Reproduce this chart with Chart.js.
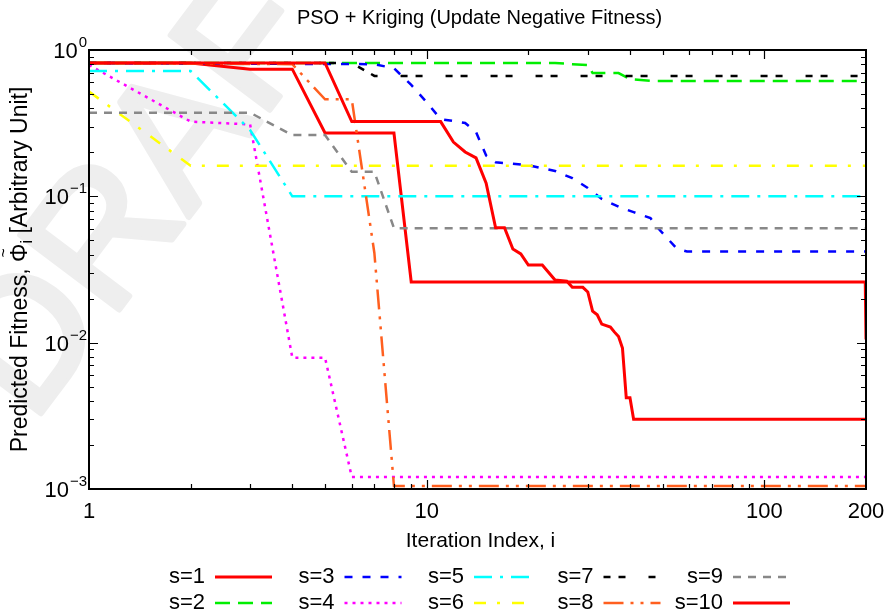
<!DOCTYPE html>
<html>
<head>
<meta charset="utf-8">
<script src="https://cdn.jsdelivr.net/npm/chart.js@4.4.1/dist/chart.umd.min.js"></script>
<style>
html, body { margin: 0; padding: 0; background: #fff; }
</style>
</head>
<body>
<canvas id="fitness" width="884" height="612"></canvas>
<script>
// best predicted fitness of each swarm, taken at the iterations where it changes
var iter1 = [1, 2, 3, 4, 5, 8, 9, 199, 200];
var fit1 = [0.815, 0.815, 0.74, 0.74, 0.271, 0.271, 0.026, 0.026, 0.0105];

var iter2 = [1, 24, 27, 30, 31, 37, 40, 47, 200];
var fit2 = [0.815, 0.815, 0.80, 0.79, 0.696, 0.696, 0.632, 0.614, 0.614];

var iter3 = [1, 7, 8, 9, 10, 11, 12, 13, 14, 15, 16, 20, 24, 27, 30, 33, 37, 41, 46, 48, 55, 59, 200];
var fit3 = [0.815, 0.80, 0.75, 0.577, 0.44, 0.337, 0.327, 0.317, 0.275, 0.19, 0.171, 0.163, 0.149, 0.133, 0.114, 0.096, 0.085, 0.078, 0.071, 0.062, 0.044, 0.042, 0.042];

var iter4 = [1, 2, 3, 4, 5, 6, 200];
var fit4 = [0.79, 0.324, 0.31, 0.0079, 0.0079, 0.00121, 0.00121];

var iter5 = [1, 2, 3, 4, 200];
var fit5 = [0.718, 0.718, 0.284, 0.1, 0.1];

var iter6 = [1, 2, 200];
var fit6 = [0.52, 0.162, 0.162];

var iter7 = [1, 6, 7, 200];
var fit7 = [0.815, 0.815, 0.665, 0.665];

var iter8 = [1, 4, 5, 6, 7, 8, 200];
var fit8 = [0.815, 0.80, 0.46, 0.46, 0.041, 0.00105, 0.00105];

var iter9 = [1, 3, 4, 5, 6, 7, 8, 200];
var fit9 = [0.373, 0.373, 0.262, 0.262, 0.147, 0.147, 0.0606, 0.0606];

var iter10 = [1, 5, 6, 11, 12, 13, 14, 15, 16, 17, 18, 19, 20, 22, 24, 26, 27, 29, 30, 31, 32, 33, 35, 36, 37, 38, 39, 40, 41, 200];
var fit10 = [0.815, 0.815, 0.324, 0.324, 0.235, 0.201, 0.183, 0.123, 0.061, 0.061, 0.0436, 0.0404, 0.0339, 0.0339, 0.0268, 0.0263, 0.0239, 0.0239, 0.0222, 0.0164, 0.0155, 0.0134, 0.0128, 0.0118, 0.011, 0.0092, 0.0042, 0.0042, 0.003, 0.003];

var swarmLabels = ["s=1", "s=2", "s=3", "s=4", "s=5", "s=6", "s=7", "s=8", "s=9", "s=10"];
var xTickValues = [1, 10, 100, 200];
var xTickLabels = ["1", "10", "100", "200"];
var yTickValues = [1, 0.1, 0.01, 0.001];
var yTickExps = ["0", "\u22121", "\u22122", "\u22123"];

var iters = [iter1, iter2, iter3, iter4, iter5, iter6, iter7, iter8, iter9, iter10];
var fits = [fit1, fit2, fit3, fit4, fit5, fit6, fit7, fit8, fit9, fit10];

// gnuplot-like line styles
var styles = [
	{color: "#ff0000", dash: [], width: 3},
	{color: "#00ee00", dash: [15, 8], width: 2.5},
	{color: "#0000ff", dash: [8, 10], width: 2.5},
	{color: "#ff00ff", dash: [3, 5], width: 2.5},
	{color: "#00ffff", dash: [18, 8, 3, 8], width: 2.5},
	{color: "#ffff00", dash: [12, 11, 3, 12], width: 2.5},
	{color: "#000000", dash: [7, 8, 7, 23], width: 2.5},
	{color: "#ff5f1f", dash: [20, 7, 3, 7, 3, 7], width: 2.5},
	{color: "#888888", dash: [8, 7], width: 2.5},
	{color: "#ff0000", dash: [], width: 3}
];

var FONT = '"Liberation Sans", Arial, sans-serif';
function font(px){ return px + "px " + FONT; }
function isDecade(v){ var l = Math.log10(v); return Math.abs(l - Math.round(l)) < 1e-9; }
function isUnit(v){ var m = v / Math.pow(10, Math.floor(Math.log10(v) + 1e-9)); return Math.abs(m - Math.round(m)) < 1e-6; }

var datasets = swarmLabels.map(function(label, k){
	return {
		label: label,
		data: iters[k].map(function(x, j){ return {x: x, y: fits[k][j]}; }),
		borderColor: styles[k].color,
		borderDash: styles[k].dash,
		borderWidth: styles[k].width,
		pointRadius: 0,
		tension: 0,
		fill: false,
		order: swarmLabels.length - 1 - k
	};
});

var frame = {
	id: "frame",
	beforeDraw: function(chart){
		// faint watermark behind everything
		var ctx = chart.ctx;
		ctx.save();
		ctx.translate(32, 425);
		ctx.rotate(-53 * Math.PI / 180);
		ctx.font = "180px " + FONT;
		ctx.fillStyle = "#eeeeee";
		ctx.strokeStyle = "#eeeeee";
		ctx.lineWidth = 6;
		ctx.lineJoin = "round";
		ctx.strokeText("DRAFT", 0, 0);
		ctx.fillText("DRAFT", 0, 0);
		ctx.restore();
	},
	afterDraw: function(chart){
		var ctx = chart.ctx, a = chart.chartArea;
		var xs = chart.scales.x, ys = chart.scales.y;
		ctx.save();

		// inward ticks on all four sides
		ctx.strokeStyle = "#000";
		ctx.lineWidth = 1.2;
		ctx.setLineDash([]);
		xs.ticks.forEach(function(t){
			var v = t.value;
			if(v <= xs.min || v >= xs.max || !isUnit(v)) return;
			var px = Math.round(xs.getPixelForValue(v)) + 0.5;
			var len = isDecade(v) ? 9 : 5;
			ctx.beginPath();
			ctx.moveTo(px, a.bottom); ctx.lineTo(px, a.bottom - len);
			ctx.moveTo(px, a.top); ctx.lineTo(px, a.top + len);
			ctx.stroke();
		});
		ys.ticks.forEach(function(t){
			var v = t.value;
			if(v <= ys.min || v >= ys.max || !isUnit(v)) return;
			var py = Math.round(ys.getPixelForValue(v)) + 0.5;
			var len = isDecade(v) ? 9 : 5;
			ctx.beginPath();
			ctx.moveTo(a.left, py); ctx.lineTo(a.left + len, py);
			ctx.moveTo(a.right, py); ctx.lineTo(a.right - len, py);
			ctx.stroke();
		});

		// plot border
		ctx.lineWidth = 2;
		ctx.strokeRect(a.left, a.top, a.right - a.left, a.bottom - a.top);

		ctx.fillStyle = "#000";
		ctx.textBaseline = "middle";

		// x tick labels
		ctx.font = font(22);
		ctx.textAlign = "center";
		xTickValues.forEach(function(v, j){
			ctx.fillText(xTickLabels[j], xs.getPixelForValue(v), a.bottom + 23);
		});

		// y tick labels, 10 with a raised exponent
		yTickValues.forEach(function(v, j){
			var py = ys.getPixelForValue(v);
			ctx.font = font(15);
			ctx.textAlign = "right";
			var ew = ctx.measureText(yTickExps[j]).width;
			ctx.fillText(yTickExps[j], a.left - 2, py - 7);
			ctx.font = font(22);
			ctx.fillText("10", a.left - 3 - ew, py + 2);
		});

		// title and axis titles
		var cx = (a.left + a.right) / 2;
		ctx.textAlign = "center";
		ctx.font = font(20);
		ctx.fillText("PSO + Kriging (Update Negative Fitness)", cx + 2, 18);
		ctx.font = font(21);
		ctx.fillText("Iteration Index, i", cx + 3, a.bottom + 52);

		ctx.save();
		ctx.translate(21, (a.top + a.bottom) / 2);
		ctx.rotate(-Math.PI / 2);
		ctx.textAlign = "left";
		var p1 = "Predicted Fitness, ", p4 = " [Arbitrary Unit]";
		ctx.font = font(23);
		var w1 = ctx.measureText(p1).width, wPhi = ctx.measureText("\u03a6").width, w4 = ctx.measureText(p4).width;
		ctx.font = font(16);
		var wi = ctx.measureText("i").width, wt = ctx.measureText("~").width;
		var x = -(w1 + wPhi + wi + w4) / 2;
		ctx.font = font(23);
		ctx.fillText(p1, x, 0); x += w1;
		ctx.fillText("\u03a6", x, 0);
		ctx.font = font(16);
		ctx.fillText("~", x + (wPhi - wt) / 2, -16);
		x += wPhi;
		ctx.fillText("i", x, 7); x += wi;
		ctx.font = font(23);
		ctx.fillText(p4, x, 0);
		ctx.restore();

		// key: two rows, five columns, text then line sample
		ctx.font = font(22);
		ctx.textAlign = "right";
		swarmLabels.forEach(function(label, k){
			var col = Math.floor(k / 2), row = k % 2;
			var sx = 215 + 129.5 * col, sy = 577 + 26 * row;
			ctx.fillStyle = "#000";
			ctx.fillText(label, sx - 10, sy);
			ctx.strokeStyle = styles[k].color;
			ctx.lineWidth = styles[k].width;
			ctx.setLineDash(styles[k].dash);
			ctx.beginPath();
			ctx.moveTo(sx, sy); ctx.lineTo(sx + 57, sy);
			ctx.stroke();
		});
		ctx.restore();
	}
};

new Chart(document.getElementById("fitness"), {
	type: "line",
	data: {datasets: datasets},
	plugins: [frame],
	options: {
		responsive: false,
		animation: false,
		devicePixelRatio: 1,
		layout: {padding: {left: 0, right: 18, top: 50, bottom: 0}},
		plugins: {legend: {display: false}, title: {display: false}, tooltip: {enabled: false}},
		scales: {
			x: {
				type: "logarithmic", min: 1, max: 200,
				grid: {display: false, drawTicks: false},
				border: {display: false},
				ticks: {display: false},
				afterFit: function(s){ s.height = 123; }
			},
			y: {
				type: "logarithmic", min: 0.001, max: 1,
				grid: {display: false, drawTicks: false},
				border: {display: false},
				ticks: {display: false},
				afterFit: function(s){ s.width = 89; }
			}
		}
	}
});
</script>
</body>
</html>
